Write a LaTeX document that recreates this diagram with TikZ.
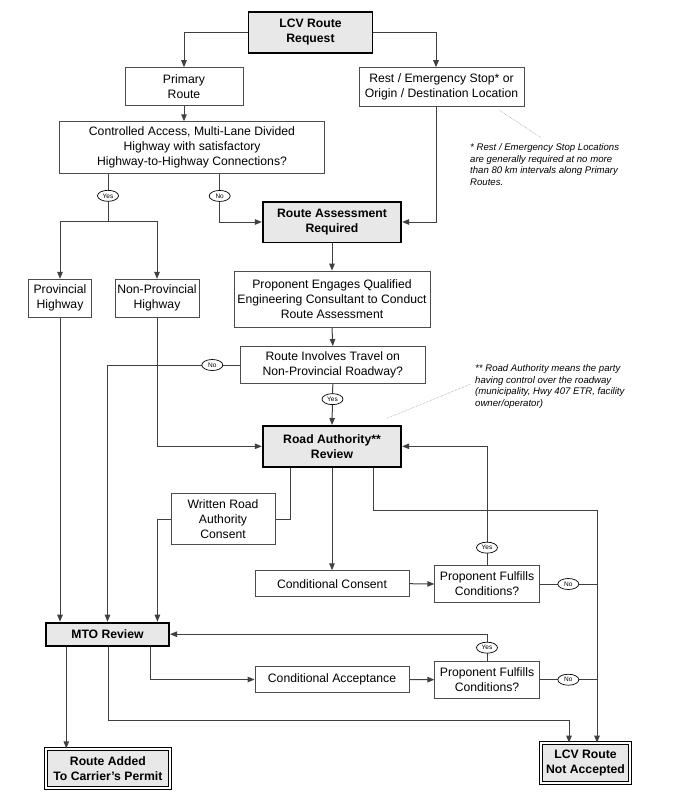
\documentclass[tikz,border=0pt]{standalone}
\usepackage{fontspec}
\setmainfont{Liberation Sans}
\usetikzlibrary{arrows.meta,shapes.geometric}
\definecolor{boxgray}{gray}{0.91}
\definecolor{wiregray}{gray}{0.25}

\begin{document}
\begin{tikzpicture}[x=1pt,y=-1pt,
    box/.style={draw=black!70,line width=0.9pt,fill=white,align=center,inner sep=0pt,
      font=\fontsize{12.2}{15}\selectfont},
    keybox/.style={box,draw=black,line width=1.8pt,fill=boxgray,
      font=\fontsize{12.2}{15}\selectfont\bfseries},
    endbox/.style={keybox,line width=1.1pt,double=white,double distance=1.8pt},
    wire/.style={draw=wiregray,line width=1pt},
    arr/.style={wire,-{Triangle[length=7pt,width=5.5pt]}},
    yn/.style={ellipse,draw=black,line width=0.7pt,fill=white,inner sep=0pt,
      minimum width=21pt,minimum height=11pt,font=\fontsize{6.5}{7}\selectfont},
    note/.style={align=left,inner sep=0pt,anchor=north west,
      font=\fontsize{9.6}{11.6}\selectfont\itshape},
    leader/.style={draw=black!45,line width=0.5pt,densely dotted}]
    \useasboundingbox (0,0) rectangle (680,800);

    \node (lcv) at (310.5,32.3) [keybox,minimum width=124pt,minimum height=41pt] {LCV Route\\Request};
    \node (prim) at (184,86.5) [box,minimum width=118pt,minimum height=37.6pt] {Primary\\Route};
    \node (rest) at (441.5,87) [box,minimum width=165pt,minimum height=38.6pt] {Rest / Emergency Stop* or\\Origin / Destination Location};
    \node (ctrl) at (192,147.5) [box,minimum width=265.5pt,minimum height=51.6pt] {Controlled Access, Multi-Lane Divided\\Highway with satisfactory\\Highway-to-Highway Connections?};
    \node (ra) at (332,222) [keybox,minimum width=138.5pt,minimum height=40.8pt] {Route Assessment\\Required};
    \node (prov) at (60,298.3) [box,minimum width=62.8pt,minimum height=38pt] {Provincial\\Highway};
    \node (nonprov) at (157,298.3) [box,minimum width=84pt,minimum height=38pt] {Non-Provincial\\Highway};
    \node (prop) at (332,299.2) [box,minimum width=196pt,minimum height=56.3pt] {Proponent Engages Qualified\\Engineering Consultant to Conduct\\Route Assessment};
    \node (inv) at (332.8,365) [box,minimum width=184.4pt,minimum height=37pt] {Route Involves Travel on\\Non-Provincial Roadway?};
    \node (rar) at (332,446.3) [keybox,minimum width=138.5pt,minimum height=40.8pt] {Road Authority**\\Review};
    \node (wrc) at (223,519) [box,minimum width=104pt,minimum height=51.6pt] {Written Road\\Authority\\Consent};
    \node (cc) at (332,583.7) [box,minimum width=154pt,minimum height=26pt] {Conditional Consent};
    \node (pf1) at (487,584) [box,minimum width=104.4pt,minimum height=36.6pt] {Proponent Fulfills\\Conditions?};
    \node (mto) at (107.5,634.2) [keybox,minimum width=123.2pt,minimum height=23.2pt] {MTO Review};
    \node (ca) at (332,679.5) [box,minimum width=154pt,minimum height=25.6pt] {Conditional Acceptance};
    \node (pf2) at (487,679.7) [box,minimum width=104.4pt,minimum height=37.3pt] {Proponent Fulfills\\Conditions?};
    \node (add) at (107.9,768.3) [endbox,minimum width=124.2pt,minimum height=38.9pt] {Route Added\\To Carrier's Permit};
    \node (rej) at (585.5,763) [endbox,minimum width=88.6pt,minimum height=39.6pt] {LCV Route\\Not Accepted};

    \node (note1) at (470,143.5) [note] {* Rest / Emergency Stop Locations\\are generally required at no more\\than 80 km intervals along Primary\\Routes.};
    \node (note2) at (475,364.5) [note] {** Road Authority means the party\\having control over the roadway\\(municipality, Hwy 407 ETR, facility\\owner/operator)};

    \coordinate (restlane) at (436,0);
    \coordinate (yessplit) at (108,221.7);
    \coordinate (nolane) at (219.7,0);
    \coordinate (wrclane) at (157.4,0);
    \coordinate (ralane) at (290,0);
    \coordinate (rarturn) at (373.6,510);
    \coordinate (rejlane) at (597,0);
    \coordinate (rejin) at (569,0);
    \coordinate (mtoturn) at (108,720);
    \coordinate (calane) at (150.4,0);
    \coordinate (addlane) at (66.3,0);
    \coordinate (lead1a) at (499,110);
    \coordinate (lead1b) at (540.5,137.3);
    \coordinate (lead2a) at (470.8,384);
    \coordinate (lead2b) at (387,418.3);

    \draw[arr] (lcv.west) -| (prim.north);
    \draw[arr] (lcv.east) -| (rest.north -| restlane);
    \draw[arr] (prim.south) -- (prim.south |- ctrl.north);
    \draw[wire] (ctrl.south -| yessplit) -- node[yn,pos=.46] {Yes} (yessplit);
    \draw[arr] (yessplit) -| (prov.north);
    \draw[arr] (yessplit) -| (nonprov.north);
    \draw[arr] (ctrl.south -| nolane) |- node[yn,pos=.23] {No} (ra.west);
    \draw[arr] (rest.south -| restlane) |- (ra.east);
    \draw[arr] (ra.south) -- (prop.north);
    \draw[arr] (prop.south) -- (inv.north);
    \draw[arr] (inv.west) -| node[yn,pos=.105] {No} (mto.north);
    \draw[arr] (inv.south) -- node[yn,pos=.37] {Yes} (rar.north);
    \draw[arr] (prov.south) -- (prov.south |- mto.north);
    \draw[arr] (nonprov.south) |- (rar.west);
    \draw[wire] (rar.south -| ralane) |- (wrc.east);
    \draw[arr] (wrc.west) -| (mto.north -| wrclane);
    \draw[arr] (rar.south) -- (cc.north);
    \draw[arr] (cc.east) -- (pf1.west);
    \draw[arr] (pf1.north) |- node[yn,pos=.074] {Yes} (rar.east);
    \draw[wire] (pf1.east) -- node[yn] {No} (pf1.east -| rejlane);
    \draw[arr] (rar.south -| rarturn) -- (rarturn) -| (rej.north -| rejlane);
    \draw[arr] (mto.south -| calane) |- (ca.west);
    \draw[arr] (ca.east) -- (pf2.west);
    \draw[arr] (pf2.north) |- node[yn,pos=.245] {Yes} (mto.east);
    \draw[wire] (pf2.east) -- node[yn] {No} (pf2.east -| rejlane);
    \draw[arr] (mto.south -| mtoturn) -- (mtoturn) -| (rej.north -| rejin);
    \draw[arr] (mto.south -| addlane) -- (add.north -| addlane);

    \draw[leader] (lead1a) -- (lead1b);
    \draw[leader] (lead2a) -- (lead2b);
\end{tikzpicture}
\end{document}
